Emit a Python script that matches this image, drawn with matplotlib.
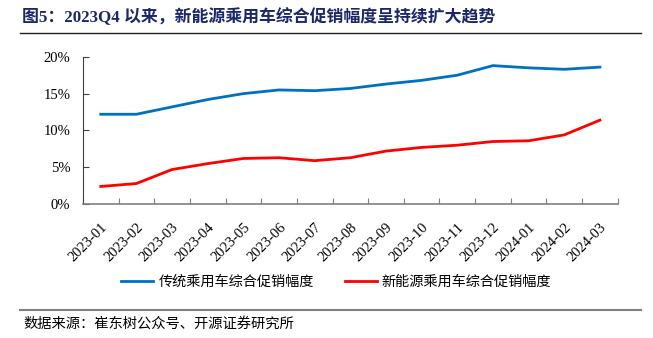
import matplotlib.pyplot as plt
from matplotlib.lines import Line2D

plt.rcParams['font.family'] = ['Liberation Serif', 'Noto Sans CJK SC', 'DejaVu Sans']

# 月份与两条促销幅度序列（%）
months = ['2023-01', '2023-02', '2023-03', '2023-04', '2023-05', '2023-06', '2023-07',
          '2023-08', '2023-09', '2023-10', '2023-11', '2023-12', '2024-01', '2024-02',
          '2024-03']
traditional = [12.2, 12.2, 13.2, 14.2, 15.0, 15.5, 15.4, 15.7, 16.3, 16.8, 17.5, 18.8,
               18.5, 18.3, 18.6]
nev = [2.4, 2.8, 4.7, 5.5, 6.2, 6.3, 5.9, 6.3, 7.2, 7.7, 8.0, 8.5, 8.6, 9.4, 11.4]

series_names = ['传统乘用车综合促销幅度', '新能源乘用车综合促销幅度']
title = '图5：2023Q4 以来，新能源乘用车综合促销幅度呈持续扩大趋势'
source = '数据来源：崔东树公众号、开源证券研究所'

fig = plt.figure(figsize=(6.53, 3.38), dpi=100)
ax = fig.add_axes([0.127, 0.396, 0.819, 0.436])

x = range(len(months))
ax.plot(x, traditional, color='#0070C0', lw=2.0, label=series_names[0])
ax.plot(x, nev, color='#FF0000', lw=2.0, label=series_names[1])

ax.set_xlim(-0.5, len(months) - 0.5)
ax.set_ylim(0, 20)
ax.set_yticks([0, 5, 10, 15, 20])
ax.set_yticklabels([f'{v}%' for v in [0, 5, 10, 15, 20]], fontsize=10.5)

# 刻度线放在类别之间
ax.set_xticks([i - 0.5 for i in range(len(months) + 1)])
ax.set_xticklabels([])
ax.set_xticks(list(x), minor=True)
ax.set_xticklabels(months, minor=True, rotation=45, ha='right', rotation_mode='anchor',
                   fontsize=10.5)
ax.tick_params(axis='x', which='minor', length=0, pad=12)
ax.tick_params(axis='x', which='major', direction='in', length=4, color='#808080')
ax.tick_params(axis='y', direction='in', length=4, color='#404040', pad=9)

for side in ['top', 'right']:
    ax.spines[side].set_visible(False)
ax.spines['bottom'].set_color('#808080')
ax.spines['bottom'].set_linewidth(1.2)
ax.spines['left'].set_color('#404040')

fig.legend(loc='center', bbox_to_anchor=(0.515, 0.165), ncol=2, frameon=False,
           prop={'family': ['Noto Sans CJK SC'], 'size': 10.2},
           handlelength=2.25, handletextpad=0.35, columnspacing=2.2)

fig.text(0.034, 0.948, title, fontsize=12.2, fontweight='bold', color='#1B2768',
         va='center', ha='left')
fig.add_artist(Line2D([0.031, 0.981], [0.902, 0.902], color='#202020', lw=1.0))
fig.add_artist(Line2D([0.031, 0.981], [0.083, 0.083], color='#808080', lw=1.5))
fig.text(0.036, 0.041, source, fontsize=10.3, va='center', ha='left',
         family=['Noto Sans CJK SC'])

fig.savefig('out.png', dpi=100)
